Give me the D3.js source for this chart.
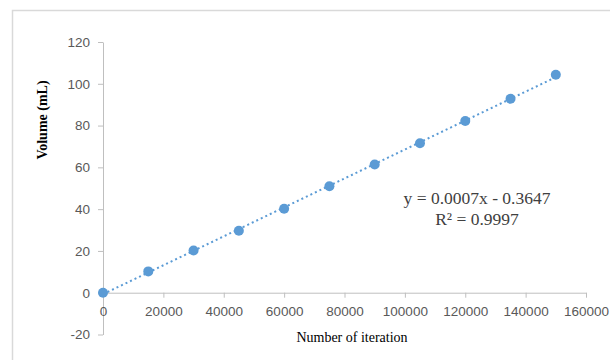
<!DOCTYPE html>
<html>
<head>
<meta charset="utf-8">
<script src="https://cdn.jsdelivr.net/npm/d3@7"></script>
<style>
  body { margin: 0; background: #fff; }
  .tick text { font-family: "Liberation Sans", Arial, sans-serif; font-size: 13.5px; fill: #595959; }
  .tick line, .domain { stroke: #bfbfbf; }
</style>
</head>
<body>
<svg width="610" height="360"></svg>
<script>
var svg = d3.select('svg');

// iterations vs volume
var iterations = [0, 15000, 30000, 45000, 60000, 75000, 90000, 105000, 120000, 135000, 150000];
var volumes = [0, 10.2, 20.2, 29.7, 40.2, 51.0, 61.4, 71.5, 82.2, 92.8, 104.3];
var xTicks = [0, 20000, 40000, 60000, 80000, 100000, 120000, 140000, 160000];
var yTicks = [-20, 0, 20, 40, 60, 80, 100, 120];
var eqLines = ['y = 0.0007x - 0.3647', 'R\u00B2 = 0.9997'];

var blue = '#5b9bd5';

// outer chart border (runs off the right/bottom edge)
svg.append('rect')
    .attr('x', 12.5).attr('y', 10.5)
    .attr('width', 640).attr('height', 400)
    .attr('fill', 'none')
    .attr('stroke', '#d9d9d9')
    .attr('stroke-width', 1.5);

var xScale = d3.scaleLinear().domain([0, 160000]).range([103, 586]);
var yScale = d3.scaleLinear().domain([-20, 120]).range([334.5, 42]);

// y axis
var yAxisG = svg.append('g')
    .attr('transform', 'translate(' + xScale(0) + ',0)')
    .call(d3.axisLeft(yScale).tickValues(yTicks).tickSize(5).tickSizeOuter(0).tickPadding(8)
        .tickFormat(function(d) { return String(d); }));

// x axis at y = 0
var xAxisG = svg.append('g')
    .attr('transform', 'translate(0,' + yScale(0) + ')')
    .call(d3.axisBottom(xScale).tickValues(xTicks).tickSize(5).tickSizeOuter(0).tickPadding(9)
        .tickFormat(function(d) { return String(d); }));

xAxisG.selectAll('.tick').filter(function(d) { return d === 0; }).select('line').remove();

// trendline (least squares from the points)
var n = iterations.length;
var mx = d3.mean(iterations), my = d3.mean(volumes);
var sxy = 0, sxx = 0;
for (var i = 0; i < n; i++) {
    sxy += (iterations[i] - mx) * (volumes[i] - my);
    sxx += (iterations[i] - mx) * (iterations[i] - mx);
}
var slope = sxy / sxx;
var intercept = my - slope * mx;
var x0 = iterations[0], x1 = iterations[n - 1];

svg.append('line')
    .attr('x1', xScale(x0)).attr('y1', yScale(slope * x0 + intercept))
    .attr('x2', xScale(x1)).attr('y2', yScale(slope * x1 + intercept))
    .attr('stroke', blue)
    .attr('stroke-width', 2)
    .attr('stroke-dasharray', '2,3');

// points
svg.selectAll('.dot')
    .data(iterations)
    .enter().append('circle')
    .attr('class', 'dot')
    .attr('cx', function(d) { return xScale(d); })
    .attr('cy', function(d, i) { return yScale(volumes[i]); })
    .attr('r', 5)
    .attr('fill', blue);

// equation
svg.append('text')
    .attr('x', 477).attr('y', 204)
    .attr('text-anchor', 'middle')
    .style('font-family', '"Liberation Serif", "Times New Roman", serif')
    .style('font-size', '17.5px')
    .style('fill', '#404040')
    .selectAll('tspan')
    .data(eqLines)
    .enter().append('tspan')
    .attr('x', 477)
    .attr('dy', function(d, i) { return i ? 21 : 0; })
    .text(function(d) { return d; });

// axis titles
svg.append('text')
    .attr('x', 352).attr('y', 342)
    .attr('text-anchor', 'middle')
    .style('font-family', '"Liberation Serif", "Times New Roman", serif')
    .style('font-size', '14px')
    .style('fill', '#000')
    .text('Number of iteration');

svg.append('text')
    .attr('transform', 'translate(47,120) rotate(-90)')
    .attr('text-anchor', 'middle')
    .style('font-family', '"Liberation Serif", "Times New Roman", serif')
    .style('font-size', '14px')
    .style('font-weight', 'bold')
    .style('fill', '#000')
    .text('Volume (mL)');
</script>
</body>
</html>
